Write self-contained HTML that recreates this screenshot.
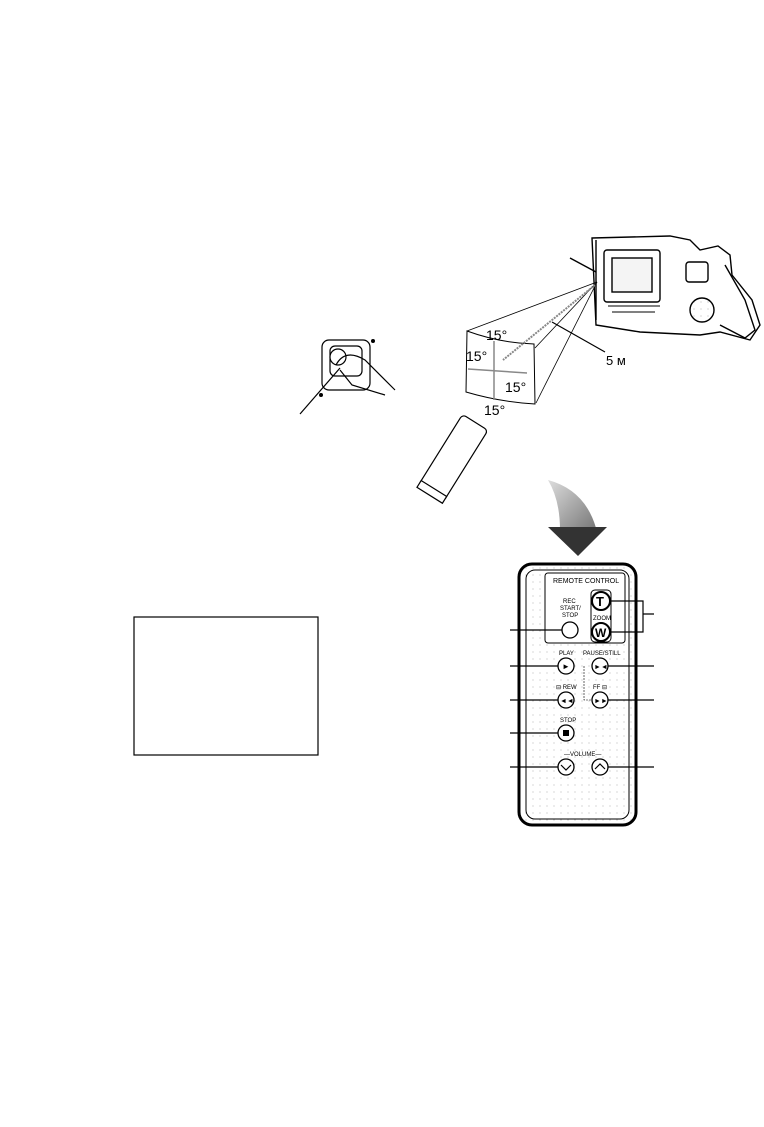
<!DOCTYPE html>
<html><head><meta charset="utf-8"><style>
html,body{margin:0;padding:0;background:#fff;width:764px;height:1127px;overflow:hidden}
svg{display:block}
text{font-family:"Liberation Sans",sans-serif;fill:#000}
</style></head><body>
<svg width="764" height="1127" viewBox="0 0 764 1127" xmlns="http://www.w3.org/2000/svg">
<defs>
<pattern id="dots" width="7" height="7" patternUnits="userSpaceOnUse"><rect width="7" height="7" fill="#fff"/><circle cx="1" cy="1" r="0.5" fill="#999"/></pattern>
<linearGradient id="ga" x1="0" y1="0" x2="1" y2="1"><stop offset="0" stop-color="#ddd"/><stop offset="1" stop-color="#777"/></linearGradient>
</defs>
<rect x="134" y="617" width="184" height="138" fill="none" stroke="#000" stroke-width="1.2"/>

<!-- camera -->
<g stroke="#000" stroke-width="1.4" fill="#fff">
<path d="M592 238 L670 236 L690 240 L700 250 L718 246 L730 255 L732 275 L752 300 L760 325 L750 340 L720 332 L700 335 L640 332 L596 325 Z"/>
<rect x="604" y="250" width="56" height="52" rx="3"/>
<rect x="612" y="258" width="40" height="34" fill="#f4f4f4"/>
<path d="M596 240 L596 320" />
<rect x="686" y="262" width="22" height="20" rx="3"/>
<circle cx="702" cy="310" r="12" fill="url(#dots)"/>
<path d="M725 265 L745 300 L755 330 L745 338 L720 325" fill="none"/>
<path d="M608 306 L660 306 M612 312 L655 312" fill="none" stroke-width="1"/>
<path d="M570 258 L596 272" fill="none"/>
</g>
<!-- beam -->
<g stroke="#000" stroke-width="0.8" fill="none">
<path d="M597 282 L467 331"/><path d="M597 282 L535 348"/><path d="M597 282 L536 403"/>
<path d="M467 331 Q500 343 534 344 L535 404 Q500 402 466 392 Z" fill="#fff" stroke-width="1"/>
<path d="M595 285 L503 360" stroke="#888" stroke-width="2" stroke-dasharray="2 1"/>
<path d="M552 322 L605 352" stroke-width="1.2"/>
<path d="M494 341 L494 400 M468 369 L527 373" stroke="#888" stroke-width="1.5"/>
</g>
<text x="486" y="340" font-size="14">15°</text>
<text x="466" y="361" font-size="14">15°</text>
<text x="505" y="392" font-size="14">15°</text>
<text x="484" y="415" font-size="14">15°</text>
<text x="606" y="365" font-size="13">5 м</text>

<!-- finger button -->
<g stroke="#000" stroke-width="1.2" fill="#fff">
<rect x="322" y="340" width="48" height="50" rx="7"/>
<rect x="330" y="346" width="32" height="30" rx="5"/>
<circle cx="338" cy="357" r="8"/>
<path d="M336 365 Q345 348 365 360 L395 390 M340 370 L352 385 L385 395" fill="none"/>
<path d="M340 368 L300 414" fill="none"/>
</g>
<circle cx="373" cy="341" r="2"/><circle cx="321" cy="395" r="2"/>

<!-- small remote -->
<g transform="translate(453,458) rotate(32)" stroke="#000" stroke-width="1.2" fill="#fff">
<rect x="-15" y="-42" width="30" height="84" rx="4"/>
<rect x="-15" y="36" width="30" height="8" fill="#fff"/>
</g>

<!-- curved arrow -->
<path d="M548 480 Q585 490 596 528 L560 530 Q560 500 548 480 Z" fill="url(#ga)"/>
<path d="M548 527 L607 527 L578 556 Z" fill="#333"/>

<!-- big remote -->
<rect x="519" y="564" width="117" height="261" rx="13" fill="url(#dots)" stroke="#000" stroke-width="3"/>
<rect x="526" y="570" width="103" height="249" rx="9" fill="none" stroke="#000" stroke-width="1"/>
<rect x="545" y="573" width="80" height="70" rx="3" fill="#fff" stroke="#000" stroke-width="1"/>
<text x="553" y="583" font-size="7">REMOTE CONTROL</text>
<text x="563" y="603" font-size="6">REC</text>
<text x="560" y="610" font-size="6">START/</text>
<text x="562" y="617" font-size="6">STOP</text>
<rect x="591" y="590" width="20" height="52" rx="4" fill="none" stroke="#000"/>
<text x="593" y="620" font-size="6">ZOOM</text>
<g stroke="#000" stroke-width="1.3" fill="#fff">
<circle cx="570" cy="630" r="8"/>
<circle cx="601" cy="601" r="9" stroke-width="2"/>
<circle cx="601" cy="632" r="9" stroke-width="2"/>
<circle cx="566" cy="666" r="8"/><circle cx="600" cy="666" r="8"/>
<circle cx="566" cy="700" r="8"/><circle cx="600" cy="700" r="8"/>
<circle cx="566" cy="733" r="8"/>
<circle cx="566" cy="767" r="8"/><circle cx="600" cy="767" r="8"/>
</g>
<text x="596" y="606" font-size="13" font-weight="bold">T</text>
<text x="595" y="637" font-size="12" font-weight="bold">W</text>
<text x="559" y="655" font-size="6">PLAY</text>
<text x="583" y="655" font-size="6">PAUSE/STILL</text>
<text x="556" y="689" font-size="6">⊟ REW</text>
<text x="593" y="689" font-size="6">FF ⊟</text>
<text x="560" y="722" font-size="6">STOP</text>
<text x="564" y="756" font-size="6">—VOLUME—</text>
<text x="562" y="669" font-size="8">►</text>
<text x="594" y="669" font-size="7">►◄</text>
<text x="560" y="703" font-size="7">◄◄</text>
<text x="594" y="703" font-size="7">►►</text>
<rect x="563" y="730" width="6" height="6"/>
<path d="M561 765 L566 770 L571 765 M595 769 L600 764 L605 769" fill="none" stroke="#000" stroke-width="1.2"/>
<g stroke="#000" stroke-width="1.2" fill="none">
<path d="M510 630 L562 630 M510 666 L558 666 M510 700 L558 700 M510 733 L558 733 M510 767 L558 767"/>
<path d="M608 666 L654 666 M608 700 L654 700 M608 767 L654 767"/>
<path d="M610 601 L643 601 L643 632 L610 632 M643 614 L654 614"/>
<path d="M584 666 L584 700 L592 700" stroke-width="0.6" stroke-dasharray="2 1"/>
</g>
</svg>
</body></html>
